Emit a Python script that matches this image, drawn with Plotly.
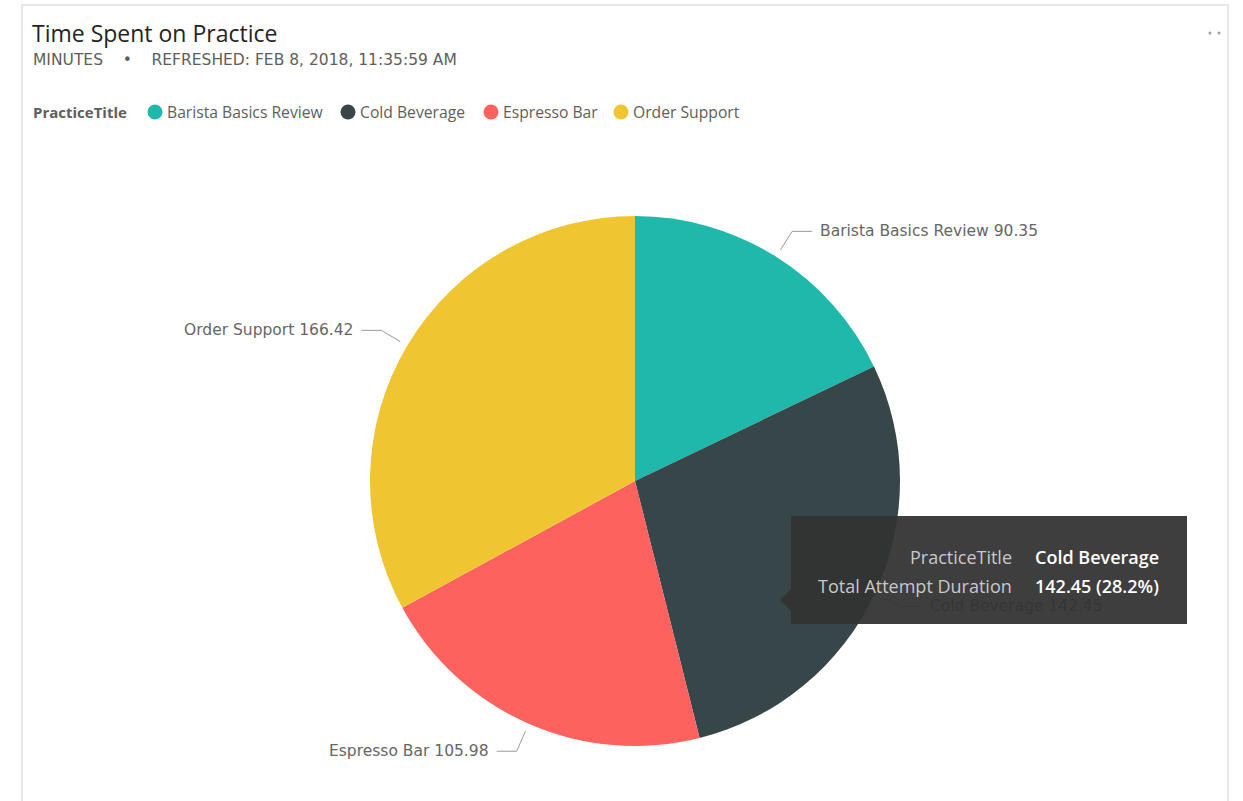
import math
import plotly.graph_objects as go

# ---- data ----
categories = ["Barista Basics Review", "Cold Beverage", "Espresso Bar", "Order Support"]
durations = [90.35, 142.45, 105.98, 166.42]
colors = ["#20B8AA", "#374649", "#FD625E", "#EFC532"]

title_text = "Time Spent on Practice"
subtitle_text = "MINUTES\u00a0\u00a0\u00a0\u00a0•\u00a0\u00a0\u00a0\u00a0REFRESHED: FEB 8, 2018, 11:35:59 AM"
legend_title = "PracticeTitle"
tooltip_field = "PracticeTitle"
tooltip_measure = "Total Attempt Duration"
tooltip_index = 1

# ---- layout constants (pixels) ----
W, H = 1243, 801
CX, CY, R = 635, 481, 265
SEGOE = "Open Sans, Noto Sans, sans-serif"
DIN = "DejaVu Sans, Roboto, sans-serif"


def px(x):
    return x / W


def py(y):
    return 1 - y / H


fig = go.Figure(
    go.Pie(
        labels=categories,
        values=durations,
        marker=dict(colors=colors, line=dict(width=0)),
        sort=False,
        direction="clockwise",
        rotation=0,
        textinfo="none",
        showlegend=False,
        domain=dict(x=[px(CX - R), px(CX + R)], y=[py(CY + R), py(CY - R)]),
        hovertemplate="PracticeTitle %{label}<br>Total Attempt Duration %{value} (%{percent})<extra></extra>",
    )
)

shapes = []
annotations = []

# card border
shapes.append(dict(type="rect", xref="paper", yref="paper", x0=px(22), x1=px(1228), y0=py(812), y1=py(5),
                   line=dict(color="#E6E6E6", width=2), fillcolor="rgba(0,0,0,0)", layer="below"))
# menu dots
for dx in (1210, 1219):
    shapes.append(dict(type="circle", xref="paper", yref="paper", x0=px(dx - 1.5), x1=px(dx + 1.5),
                       y0=py(34.5), y1=py(31.5), fillcolor="#A0A0A0", line=dict(width=0)))

# title and subtitle
annotations.append(dict(text=title_text, x=px(30), y=py(33), xref="paper", yref="paper", xanchor="left",
                        yanchor="middle", showarrow=False, font=dict(family=SEGOE, size=23, color="#252423")))
annotations.append(dict(text=subtitle_text, x=px(31), y=py(60), xref="paper", yref="paper", xanchor="left",
                        yanchor="middle", showarrow=False, font=dict(family=DIN, size=15.5, color="#605E5C")))

# legend
annotations.append(dict(text="<b>" + legend_title + "</b>", x=px(31), y=py(112), xref="paper", yref="paper",
                        xanchor="left", yanchor="middle", showarrow=False,
                        font=dict(family=SEGOE, size=15, color="#605E5C")))
legend_circle_x = [155, 348, 491, 621]
for cat, col, lx in zip(categories, colors, legend_circle_x):
    shapes.append(dict(type="circle", xref="paper", yref="paper", x0=px(lx - 7.5), x1=px(lx + 7.5),
                       y0=py(119.5), y1=py(104.5), fillcolor=col, line=dict(width=0)))
    annotations.append(dict(text=cat, x=px(lx + 10), y=py(112), xref="paper", yref="paper", xanchor="left",
                            yanchor="middle", showarrow=False, font=dict(family=SEGOE, size=15.7, color="#605E5C")))

# data labels with leader lines, computed from the slice angles
total = sum(durations)
cum = 0.0
for cat, val in zip(categories, durations):
    mid = (cum + val / 2) / total * 2 * math.pi
    cum += val
    s, c = math.sin(mid), math.cos(mid)
    x1, y1 = CX + (R + 8) * s, CY - (R + 8) * c
    x2, y2 = CX + (R + 30) * s, CY - (R + 30) * c
    side = 1 if s >= 0 else -1
    x3 = x2 + side * 20
    path = f"M {px(x1)} {py(y1)} L {px(x2)} {py(y2)} L {px(x3)} {py(y2)}"
    shapes.append(dict(type="path", xref="paper", yref="paper", path=path,
                       line=dict(color="#9A9A9A", width=1), layer="above"))
    annotations.append(dict(text=f"{cat} {val:.2f}", x=px(x3 + side * 6), y=py(y2), xref="paper", yref="paper",
                            xanchor="left" if side > 0 else "right", yanchor="middle", showarrow=False,
                            font=dict(family=DIN, size=15.5, color="#666666")))

# tooltip
tip_bg = "rgba(50,50,50,0.94)"
annotations.append(dict(text=" ", x=px(791), y=py(516), xref="paper", yref="paper", xanchor="left", yanchor="top",
                        showarrow=False, width=396, height=108, bgcolor=tip_bg, borderpad=0, borderwidth=0))
shapes.append(dict(type="path", xref="paper", yref="paper",
                   path=f"M {px(791)} {py(589)} L {px(780)} {py(600)} L {px(791)} {py(611)} Z",
                   fillcolor=tip_bg, line=dict(width=0), layer="above"))
tv = durations[tooltip_index]
pct = tv / total * 100
rows = [(tooltip_field, categories[tooltip_index], 557), (tooltip_measure, f"{tv:.2f} ({pct:.1f}%)", 586)]
for lab, v, yy in rows:
    annotations.append(dict(text=lab, x=px(1014), y=py(yy), xref="paper", yref="paper", xanchor="right",
                            yanchor="middle", showarrow=False, font=dict(family=SEGOE, size=18, color="#C8C8C8")))
    annotations.append(dict(text=v, x=px(1033), y=py(yy), xref="paper", yref="paper",
                            xanchor="left", yanchor="middle", showarrow=False,
                            font=dict(family=SEGOE, size=18, color="#FFFFFF", weight=600)))

fig.update_layout(
    width=W, height=H,
    margin=dict(l=0, r=0, t=0, b=0),
    paper_bgcolor="white",
    plot_bgcolor="white",
    shapes=shapes,
    annotations=annotations,
    showlegend=False,
)

fig.write_html("out.html")
